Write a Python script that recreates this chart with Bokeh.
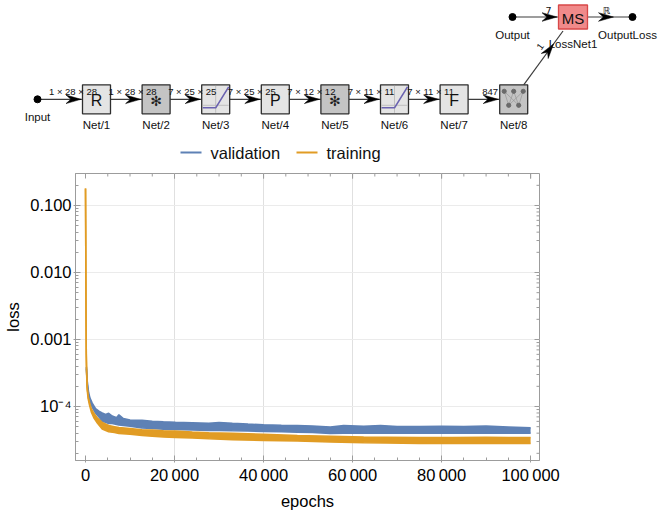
import math
from bokeh.plotting import figure
from bokeh.models import Range1d, FixedTicker, CustomJSTickFormatter, ColumnDataSource
from bokeh.core.properties import value
from bokeh.embed import file_html
from bokeh.resources import INLINE

FONT = "Liberation Sans"

# ---------------- data ----------------
series_names = ["validation", "training"]
series_colors = ["#5E81B5", "#E19C24"]

val_epochs = [200, 400, 700, 1000, 1500, 2250, 3000, 3750, 4500, 5200, 6000, 7000, 7500, 8500,
              10000, 12700, 15000, 17500, 20200, 24000, 27700, 30000, 33000, 36500, 40000, 44000,
              47600, 51000, 55000, 58000, 62500, 66300, 70000, 75000, 80000, 85000, 90000, 95000, 100000]
val_lo = [3.7e-4, 2.1e-4, 1.45e-4, 1.17e-4, 9.8e-5, 8.0e-5, 7.0e-5, 6.0e-5, 5.8e-5, 5.6e-5, 5.6e-5,
          5.4e-5, 5.3e-5, 5.2e-5, 5.1e-5, 4.8e-5, 4.7e-5, 4.6e-5, 4.55e-5, 4.45e-5, 4.4e-5, 4.4e-5,
          4.35e-5, 4.3e-5, 4.25e-5, 4.2e-5, 4.13e-5, 4.1e-5, 3.95e-5, 4.0e-5, 4.0e-5, 4.0e-5, 4.0e-5,
          4.0e-5, 4.0e-5, 3.98e-5, 4.0e-5, 3.98e-5, 3.98e-5]
val_hi = [3.9e-4, 2.35e-4, 1.6e-4, 1.33e-4, 1.12e-4, 9.3e-5, 8.5e-5, 8.0e-5, 7.6e-5, 7.9e-5, 7.2e-5,
          6.8e-5, 7.5e-5, 6.6e-5, 6.3e-5, 6.2e-5, 6.0e-5, 5.9e-5, 5.8e-5, 5.7e-5, 5.6e-5, 5.75e-5,
          5.6e-5, 5.45e-5, 5.35e-5, 5.25e-5, 5.2e-5, 5.1e-5, 4.95e-5, 5.2e-5, 5.05e-5, 5.2e-5, 5.0e-5,
          5.0e-5, 5.05e-5, 5.0e-5, 5.1e-5, 4.95e-5, 4.8e-5]

train_epochs = [0, 40, 80, 120, 170, 250, 370, 600, 900, 1300, 1870, 2700, 3750, 5200, 6500, 7500,
                10000, 12700, 15000, 17500, 20200, 24000, 27700, 33000, 40000, 47600, 55000, 62500,
                67400, 75000, 82400, 90000, 95000, 100000]
train_lo = [0.18, 0.05, 0.01, 2.0e-3, 6.0e-4, 3.1e-4, 1.8e-4, 1.3e-4, 1.05e-4, 8.3e-5, 6.8e-5, 5.6e-5,
            4.6e-5, 4.2e-5, 4.1e-5, 3.95e-5, 3.85e-5, 3.7e-5, 3.6e-5, 3.5e-5, 3.45e-5, 3.38e-5, 3.3e-5,
            3.2e-5, 3.12e-5, 3.05e-5, 2.95e-5, 2.88e-5, 2.85e-5, 2.82e-5, 2.8e-5, 2.8e-5, 2.8e-5, 2.8e-5]
train_hi = [0.18, 0.05, 0.01, 2.0e-3, 6.0e-4, 3.3e-4, 2.0e-4, 1.4e-4, 1.15e-4, 9.3e-5, 7.9e-5, 6.7e-5,
            5.8e-5, 5.2e-5, 5.0e-5, 4.85e-5, 4.7e-5, 4.5e-5, 4.45e-5, 4.35e-5, 4.3e-5, 4.15e-5, 4.05e-5,
            3.98e-5, 3.85e-5, 3.7e-5, 3.6e-5, 3.5e-5, 3.48e-5, 3.45e-5, 3.43e-5, 3.48e-5, 3.45e-5, 3.45e-5]

x_ticks = [0, 20000, 40000, 60000, 80000, 100000]
x_tick_labels = ["0", "20\u2009000", "40\u2009000", "60\u2009000", "80\u2009000", "100\u2009000"]
x_minor = [5000 * k for k in range(1, 21)]
y_ticks = [1e-4, 1e-3, 1e-2, 1e-1]
y_tick_labels = ["10\u207b\u2074", "0.001", "0.010", "0.100"]
y_minor = [m * 10.0 ** e for e in range(-5, 0) for m in range(2, 10)]
x_label = "epochs"
y_label = "loss"

# network diagram content
layer_names = ["Net/1", "Net/2", "Net/3", "Net/4", "Net/5", "Net/6", "Net/7", "Net/8"]
layer_icons = ["R", "conv", "ramp", "P", "conv", "ramp", "F", "linear"]
edge_labels = ["1 \u00d7 28 \u00d7 28", "1 \u00d7 28 \u00d7 28", "7 \u00d7 25 \u00d7 25", "7 \u00d7 25 \u00d7 25",
               "7 \u00d7 12 \u00d7 12", "7 \u00d7 11 \u00d7 11", "7 \u00d7 11 \u00d7 11", "847"]
input_name = "Input"
loss_name = "LossNet1"
loss_icon = "MS"
target_name = "Output"
target_label = "7"
loss_out_name = "OutputLoss"
loss_out_label = "\u211d"
loss_in_label = "1"

# ---------------- top: network diagram ----------------
W = 663
TOP_H = 165
top = figure(width=W, height=TOP_H, x_range=Range1d(0, W), y_range=Range1d(TOP_H, 0),
             output_backend="svg", toolbar_location=None, min_border=0,
             x_axis_location=None, y_axis_location=None)
top.grid.visible = False
top.outline_line_color = None

EDGE = "#3c3c3c"


def arrowhead(tx, ty, dx, dy, L=15.0, Wd=4.3):
    n = math.hypot(dx, dy)
    dx, dy = dx / n, dy / n
    px, py = -dy, dx
    xs = [tx, tx - L * dx + Wd * px, tx - 0.68 * L * dx, tx - L * dx - Wd * px]
    ys = [ty, ty - L * dy + Wd * py, ty - 0.68 * L * dy, ty - L * dy - Wd * py]
    return xs, ys


cx0, step, cy = 96.0, 59.6, 98.8
bw, bh = 28.0, 29.0
cxs = [cx0 + i * step for i in range(len(layer_names))]
input_x = 37.0

starts = [input_x] + [c + bw / 2 for c in cxs[:-1]]
ends = [c - bw / 2 for c in cxs]
top.segment(x0=starts, y0=[cy] * len(starts), x1=ends, y1=[cy] * len(ends), line_color=EDGE, line_width=1.2)
ah_x, ah_y = [], []
for e in ends:
    xs_, ys_ = arrowhead(e - 1.5, cy, 1, 0)
    ah_x.append(xs_)
    ah_y.append(ys_)
top.patches(ah_x, ah_y, fill_color="black", line_color="black", line_width=0.5)

top.scatter([input_x], [cy], size=7, marker="circle", fill_color="black", line_color="black")

light, dark = "#E4E4E4", "#C4C4C4"
fills = [dark if ic in ("conv", "linear") else light for ic in layer_icons]
top.rect(x=cxs, y=[cy] * len(cxs), width=bw, height=bh, fill_color=fills, line_color="#2e2e2e", line_width=1.3)

letter_x = [c for c, ic in zip(cxs, layer_icons) if len(ic) == 1]
letter_t = [ic for ic in layer_icons if len(ic) == 1]
top.text(x=letter_x, y=[cy + 1] * len(letter_x), text=letter_t, text_align="center", text_baseline="middle",
         text_font=value(FONT), text_font_size="16px", text_color="#111111")
conv_x = [c for c, ic in zip(cxs, layer_icons) if ic == "conv"]
top.text(x=conv_x, y=[cy + 1.5] * len(conv_x), text=["\u273b"] * len(conv_x), text_align="center",
         text_baseline="middle", text_font=value("DejaVu Sans"), text_font_size="14px", text_color="#222222")

for c, ic in zip(cxs, layer_icons):
    l, r, t, b = c - bw / 2, c + bw / 2, cy - bh / 2, cy + bh / 2
    if ic == "ramp":
        top.segment(x0=[c, l + 1], y0=[t + 1, cy + 6], x1=[c, r - 1], y1=[b - 1, cy + 6],
                    line_color="#B5B5B5", line_width=0.8)
        top.line([l + 1, c, r - 1], [cy + 8.5, cy + 8.5, t + 2], line_color="#6A62B0", line_width=1.6)
    if ic == "linear":
        tx = [c - 9.5, c, c + 9.5]
        bx = [c - 5, c + 5]
        x0s, y0s, x1s, y1s = [], [], [], []
        for a in tx:
            for q in bx:
                x0s.append(a); y0s.append(cy - 8); x1s.append(q); y1s.append(cy + 6)
        top.segment(x0=x0s, y0=y0s, x1=x1s, y1=y1s, line_color="#909090", line_width=0.6)
        top.scatter(tx + bx, [cy - 8] * 3 + [cy + 6] * 2, size=4.2, marker="circle",
                    fill_color="#6a6a6a", line_color="#6a6a6a")

top.text(x=[e - 9.5 for e in ends], y=[cy - 7.5] * len(ends), text=edge_labels, text_align="center",
         text_baseline="middle", text_font=value(FONT), text_font_size="9.5px", text_color="#111111")
top.text(x=cxs, y=[cy + 26] * len(cxs), text=layer_names, text_align="center", text_baseline="middle",
         text_font=value(FONT), text_font_size="11.5px", text_color="#111111")
top.text(x=[input_x], y=[cy + 18], text=[input_name], text_align="center", text_baseline="middle",
         text_font=value(FONT), text_font_size="11.5px", text_color="#111111")

# loss row
ty = 16.5
out_x, ms_x, ol_x = 512.0, 572.5, 632.0
ms_w, ms_h = 29.0, 24.0
top.segment(x0=[out_x, ms_x + ms_w / 2], y0=[ty, ty], x1=[ms_x - ms_w / 2, ol_x], y1=[ty, ty],
            line_color=EDGE, line_width=1.2)
d0x, d0y = cxs[-1] + 10, cy - bh / 2
d1x, d1y = ms_x - 10, ty + ms_h / 2 + 2
top.segment(x0=[d0x], y0=[d0y], x1=[d1x], y1=[d1y], line_color=EDGE, line_width=1.2)
fr = 0.76
a1 = arrowhead(ms_x - ms_w / 2 - 1.5, ty, 1, 0)
a2 = arrowhead(613, ty, 1, 0)
a3 = arrowhead(d0x + fr * (d1x - d0x), d0y + fr * (d1y - d0y), d1x - d0x, d1y - d0y)
top.patches([a1[0], a2[0], a3[0]], [a1[1], a2[1], a3[1]], fill_color="black", line_color="black", line_width=0.5)
top.scatter([out_x, ol_x], [ty, ty], size=7, marker="circle", fill_color="black", line_color="black")
top.rect(x=[ms_x], y=[ty], width=ms_w, height=ms_h, fill_color="#F08A8A", line_color="#D84848", line_width=1.3)
top.text(x=[ms_x], y=[ty + 1], text=[loss_icon], text_align="center", text_baseline="middle",
         text_font=value(FONT), text_font_size="15px", text_color="#111111")
top.text(x=[548, 606], y=[ty - 7, ty - 7], text=[target_label, loss_out_label], text_align="center",
         text_baseline="middle", text_font=value("DejaVu Sans"), text_font_size="9.5px", text_color="#111111")
top.text(x=[out_x, 627, ms_x], y=[ty + 18, ty + 18, ty + 26.5], text=[target_name, loss_out_name, loss_name],
         text_align="center", text_baseline="middle", text_font=value(FONT), text_font_size="11.5px",
         text_color="#111111")
ang = math.atan2(-(d1y - d0y), d1x - d0x)
mx, my = d0x + 0.6 * (d1x - d0x), d0y + 0.6 * (d1y - d0y)
top.text(x=[mx - 7], y=[my - 6], text=[loss_in_label], angle=ang, text_align="center", text_baseline="middle",
         text_font=value(FONT), text_font_size="9.5px", text_color="#111111")

# legend (manual)
leg_y = 152.0
leg_line_x = [180.0, 296.0]
leg_text_x = [210.0, 326.0]
top.segment(x0=leg_line_x, y0=[leg_y] * 2, x1=[x + 21 for x in leg_line_x], y1=[leg_y] * 2,
            line_color=series_colors, line_width=2)
top.text(x=leg_text_x, y=[leg_y] * 2, text=series_names, text_align="left", text_baseline="middle",
         text_font=value(FONT), text_font_size="16.5px", text_color="#111111")

# ---------------- bottom: loss plot ----------------
BOT_H = 515 - TOP_H
FL, FR, FT, FB = 75, 539, 173, 460           # frame edges in page pixels
x0r, x1r = -2250.0, 102000.0
y0r, y1r = 1.563e-5, 0.3002
bot = figure(width=W, height=BOT_H, x_range=Range1d(x0r, x1r), y_range=Range1d(y0r, y1r),
             y_axis_type="log", output_backend="svg", toolbar_location=None,
             min_border_left=FL, min_border_right=W - FR, min_border_top=FT - TOP_H,
             min_border_bottom=515 - FB)
AX = "#9c9c9c"
bot.outline_line_color = AX

xax = bot.below[0]
yax = bot.left[0]
xax.ticker = FixedTicker(ticks=x_ticks, minor_ticks=x_minor)
yax.ticker = FixedTicker(ticks=y_ticks, minor_ticks=y_minor)
xax.formatter = CustomJSTickFormatter(args=dict(tks=x_ticks, lbls=x_tick_labels),
    code="const i = tks.findIndex(t => Math.abs(t - tick) < 1e-6); return i < 0 ? '' : lbls[i];")
yax.formatter = CustomJSTickFormatter(args=dict(tks=y_ticks, lbls=y_tick_labels),
    code="const i = tks.findIndex(t => Math.abs(Math.log10(t) - Math.log10(tick)) < 1e-6); return i < 0 ? '' : lbls[i];")

for ax in [xax, yax]:
    ax.axis_line_color = AX
    ax.major_tick_line_color = AX
    ax.minor_tick_line_color = AX
    ax.major_tick_in = 5
    ax.major_tick_out = 2
    ax.minor_tick_in = 3
    ax.minor_tick_out = 0
    ax.major_label_text_font = FONT
    ax.major_label_text_font_size = "16.5px"
    ax.major_label_text_color = "#000000"
    ax.axis_label_text_font = FONT
    ax.axis_label_text_font_size = "16.5px"
    ax.axis_label_text_font_style = "normal"
    ax.axis_label_text_color = "#000000"

xax.major_label_standoff = 3
xax.axis_label = x_label
xax.axis_label_standoff = 5
yax.major_label_standoff = 2
yax.axis_label = y_label
yax.axis_label_standoff = 5

bot.xgrid.ticker = FixedTicker(ticks=[t for t in x_ticks if 0 < t < x_ticks[-1]])
bot.xgrid.grid_line_color = "#E0E0E0"
bot.ygrid.ticker = FixedTicker(ticks=y_ticks)
bot.ygrid.grid_line_color = "#EBEBEB"

# inward ticks on the top and right frame edges (mirroring the bottom/left axes)
upx = (x1r - x0r) / (FR - FL)
ppd = (FB - FT) / math.log10(y1r / y0r)
tx0, tx1, ty0, ty1 = [], [], [], []
for t in x_ticks + x_minor:
    ln = 5 if t in x_ticks else 3
    tx0.append(t); tx1.append(t); ty0.append(y1r); ty1.append(y1r * 10 ** (-ln / ppd))
for t in y_ticks + [m for m in y_minor if y0r < m < y1r]:
    ln = 5 if t in y_ticks else 3
    tx0.append(x1r); tx1.append(x1r - ln * upx); ty0.append(t); ty1.append(t)
bot.segment(x0=tx0, y0=ty0, x1=tx1, y1=ty1, line_color=AX, line_width=1)

series = [(val_epochs, val_lo, val_hi), (train_epochs, train_lo, train_hi)]
for (ep, lo, hi), color in zip(series, series_colors):
    src = ColumnDataSource(dict(x=ep, lo=lo, hi=hi))
    bot.varea(x="x", y1="lo", y2="hi", source=src, fill_color=color)
    bot.line("x", "lo", source=src, line_color=color, line_width=1.6)
    bot.line("x", "hi", source=src, line_color=color, line_width=1.6)

open("out.html", "w").write(file_html([top, bot], INLINE))
